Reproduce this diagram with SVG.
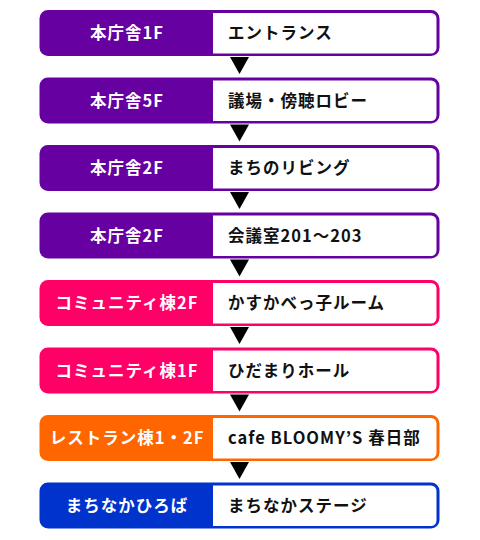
<svg xmlns="http://www.w3.org/2000/svg" width="480" height="540" viewBox="0 0 480 540">
<style>
.box{stroke-width:3}
.inner{fill:#fff}
.lt{font-family:"Noto Sans CJK JP","Noto Sans",sans-serif;font-weight:bold;font-size:16.5px;fill:#fff;text-anchor:middle;letter-spacing:1px}
.rt{font-family:"Noto Sans CJK JP","Noto Sans",sans-serif;font-weight:bold;font-size:16.5px;fill:#111;letter-spacing:1px}
.arr{fill:#000}
.p{fill:#6600A0;stroke:#6600A0}
.k{fill:#FF0066;stroke:#FF0066}
.o{fill:#FF6600;stroke:#FF6600}
.b{fill:#0033CC;stroke:#0033CC}
</style>
<defs>
<path id="w" class="inner" d="M213,13 H431 a5.5,5.5 0 0 1 5.5,5.5 V48 a5.5,5.5 0 0 1 -5.5,5.5 H213 Z"/>
</defs>
<g id="connectors">
<polygon class="arr" points="230,57 249,57 239.5,74"/>
<polygon class="arr" points="230,124.5 249,124.5 239.5,141.5"/>
<polygon class="arr" points="230,192 249,192 239.5,209"/>
<polygon class="arr" points="230,259.5 249,259.5 239.5,276.5"/>
<polygon class="arr" points="230,327 249,327 239.5,344"/>
<polygon class="arr" points="230,394.5 249,394.5 239.5,411.5"/>
<polygon class="arr" points="230,462 249,462 239.5,479"/>
</g>
<g id="n1" transform="translate(0,0)">
<rect class="box p" x="41" y="11.5" width="397" height="43" rx="7"/>
<use href="#w"/>
<text class="lt" x="127" y="39">本庁舎1F</text>
<text class="rt" x="228" y="39">エントランス</text>
</g>
<g id="n2" transform="translate(0,67.5)">
<rect class="box p" x="41" y="11.5" width="397" height="43" rx="7"/>
<use href="#w"/>
<text class="lt" x="127" y="39">本庁舎5F</text>
<text class="rt" x="228" y="39">議場・傍聴ロビー</text>
</g>
<g id="n3" transform="translate(0,135)">
<rect class="box p" x="41" y="11.5" width="397" height="43" rx="7"/>
<use href="#w"/>
<text class="lt" x="127" y="39">本庁舎2F</text>
<text class="rt" x="228" y="39">まちのリビング</text>
</g>
<g id="n4" transform="translate(0,202.5)">
<rect class="box p" x="41" y="11.5" width="397" height="43" rx="7"/>
<use href="#w"/>
<text class="lt" x="127" y="39">本庁舎2F</text>
<text class="rt" x="228" y="39">会議室201～203</text>
</g>
<g id="n5" transform="translate(0,270)">
<rect class="box k" x="41" y="11.5" width="397" height="43" rx="7"/>
<use href="#w"/>
<text class="lt" x="127" y="39">コミュニティ棟2F</text>
<text class="rt" x="228" y="39">かすかべっ子ルーム</text>
</g>
<g id="n6" transform="translate(0,337.5)">
<rect class="box k" x="41" y="11.5" width="397" height="43" rx="7"/>
<use href="#w"/>
<text class="lt" x="127" y="39">コミュニティ棟1F</text>
<text class="rt" x="228" y="39">ひだまりホール</text>
</g>
<g id="n7" transform="translate(0,405)">
<rect class="box o" x="41" y="11.5" width="397" height="43" rx="7"/>
<use href="#w"/>
<text class="lt" x="127" y="39">レストラン棟1・2F</text>
<text class="rt" x="228" y="39">cafe BLOOMY’S 春日部</text>
</g>
<g id="n8" transform="translate(0,472.5)">
<rect class="box b" x="41" y="11.5" width="397" height="43" rx="7"/>
<use href="#w"/>
<text class="lt" x="127" y="39">まちなかひろば</text>
<text class="rt" x="228" y="39">まちなかステージ</text>
</g>
</svg>
